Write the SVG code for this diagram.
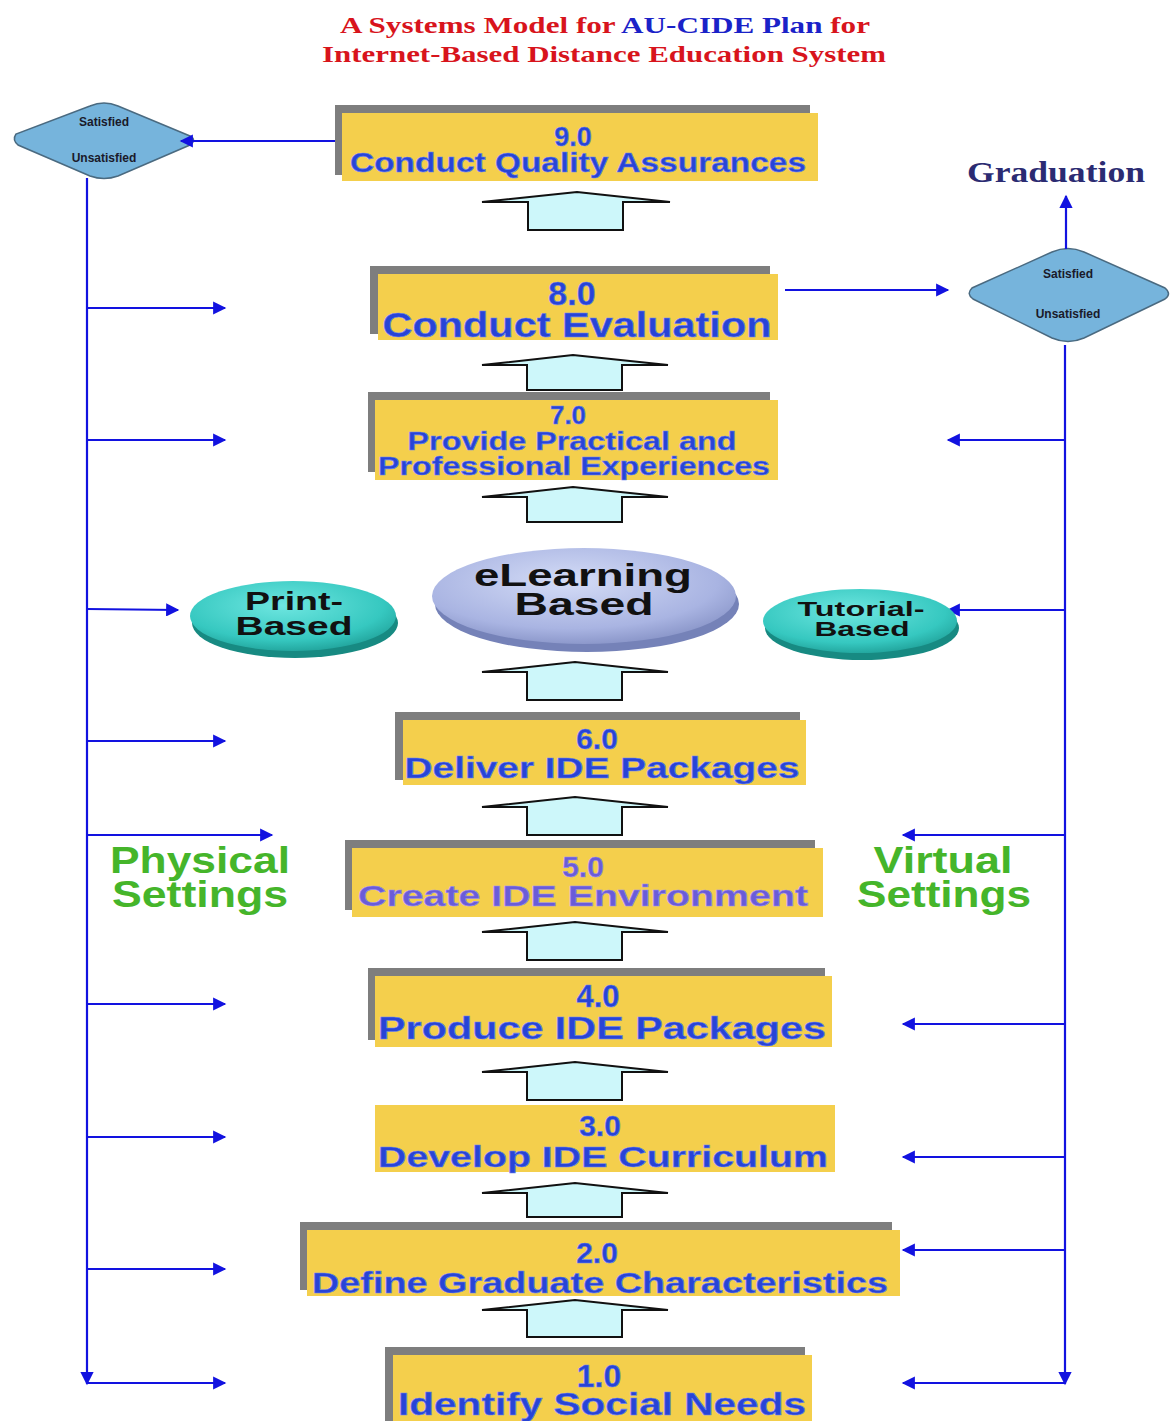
<svg xmlns="http://www.w3.org/2000/svg" xmlns:xlink="http://www.w3.org/1999/xlink" width="1173" height="1421" viewBox="0 0 1173 1421">
<defs>
<style>
.sh{fill:#7e7e7e}
.bx{fill:#f4cf4c}
.bt{font-family:"Liberation Sans",Arial,sans-serif;font-weight:bold;fill:#2844d6;text-anchor:middle;stroke:#6d84f0;stroke-width:0.6}
.pt{fill:#6a5cd8;stroke:#9a8ef0}
.up{fill:#cdf7fa;stroke:#111;stroke-width:2;stroke-linejoin:miter}
.ln{fill:none;stroke:#1212e0;stroke-width:2.2}
.dm{fill:#76b4dc;stroke:#4a6a80;stroke-width:1.5}
.dt{font-family:"Liberation Sans",Arial,sans-serif;font-weight:bold;font-size:12px;fill:#1a1a2a;text-anchor:middle}
.et{font-family:"Liberation Sans",Arial,sans-serif;font-weight:bold;fill:#111;text-anchor:middle}
.gt{font-family:"Liberation Sans",Arial,sans-serif;font-weight:bold;fill:#45b52a;text-anchor:middle;font-size:36px}
.ti{font-family:"Liberation Serif","Times New Roman",serif;font-weight:bold;font-size:24px;text-anchor:middle}
</style>
<marker id="ah" viewBox="0 0 10 10" refX="9" refY="5" markerWidth="7" markerHeight="6" markerUnits="strokeWidth" orient="auto">
<path d="M0,0 L10,5 L0,10 z" fill="#1212e0"/>
</marker>
<radialGradient id="teal" cx="0.45" cy="0.35" r="0.7">
<stop offset="0" stop-color="#6ee6e0"/>
<stop offset="0.7" stop-color="#36c8c0"/>
<stop offset="1" stop-color="#1e9e96"/>
</radialGradient>
<radialGradient id="lav" cx="0.45" cy="0.35" r="0.7">
<stop offset="0" stop-color="#d4dcf6"/>
<stop offset="0.7" stop-color="#a9b4e2"/>
<stop offset="1" stop-color="#8490c4"/>
</radialGradient>
</defs>
<rect width="1173" height="1421" fill="#ffffff"/>

<g id="title">
<text class="ti" x="605" y="33" textLength="530" lengthAdjust="spacingAndGlyphs"><tspan fill="#d8141c">A Systems Model for </tspan><tspan fill="#1a22c8">AU-CIDE Plan</tspan><tspan fill="#d8141c"> for</tspan></text>
<text class="ti" x="604" y="62" fill="#d8141c" textLength="564" lengthAdjust="spacingAndGlyphs">Internet-Based Distance Education System</text>
</g>

<g id="decision-left">
<path class="dm" d="M16,134 Q12,140 18,145 L90,176 Q104,181 118,176 L190,145 Q197,140 190,136 L118,106 Q104,100 90,106 Z"/>
<text class="dt" x="104" y="126">Satisfied</text>
<text class="dt" x="104" y="162">Unsatisfied</text>
</g>

<g id="decision-right">
<path class="dm" d="M972,288 Q966,294 973,299 L1052,338 Q1068,345 1084,338 L1165,299 Q1172,294 1165,288 L1084,252 Q1068,245 1052,252 Z"/>
<text class="dt" x="1068" y="278" font-size="13">Satisfied</text>
<text class="dt" x="1068" y="318" font-size="13">Unsatisfied</text>
</g>

<g id="connectors">
<polygon class="up" points="482,202 577,192 670,202 623,202 623,230 528,230 528,202"/>
<polygon class="up" points="482,365 573,355 668,365 622,365 622,390 527,390 527,365"/>
<polygon class="up" points="482,497 573,487 668,497 622,497 622,522 527,522 527,497"/>
<polygon class="up" points="482,672 575,662 668,672 622,672 622,700 527,700 527,672"/>
<polygon class="up" points="482,807 575,797 668,807 622,807 622,835 527,835 527,807"/>
<polygon class="up" points="482,932 575,922 668,932 622,932 622,960 527,960 527,932"/>
<polygon class="up" points="482,1072 575,1062 668,1072 622,1072 622,1100 527,1100 527,1072"/>
<polygon class="up" points="482,1193 575,1183 668,1193 622,1193 622,1217 527,1217 527,1193"/>
<polygon class="up" points="482,1310 575,1300 668,1310 622,1310 622,1337 527,1337 527,1310"/>

<line class="ln" x1="342" y1="141" x2="181" y2="141" marker-end="url(#ah)"/>
<line class="ln" x1="87" y1="178" x2="87" y2="1384" marker-end="url(#ah)"/>
<line class="ln" x1="87" y1="308" x2="225" y2="308" marker-end="url(#ah)"/>
<line class="ln" x1="87" y1="440" x2="225" y2="440" marker-end="url(#ah)"/>
<line class="ln" x1="87" y1="609" x2="178" y2="610" marker-end="url(#ah)"/>
<line class="ln" x1="87" y1="741" x2="225" y2="741" marker-end="url(#ah)"/>
<line class="ln" x1="87" y1="835" x2="272" y2="835" marker-end="url(#ah)"/>
<line class="ln" x1="87" y1="1004" x2="225" y2="1004" marker-end="url(#ah)"/>
<line class="ln" x1="87" y1="1137" x2="225" y2="1137" marker-end="url(#ah)"/>
<line class="ln" x1="87" y1="1269" x2="225" y2="1269" marker-end="url(#ah)"/>
<line class="ln" x1="87" y1="1383" x2="225" y2="1383" marker-end="url(#ah)"/>

<line class="ln" x1="785" y1="290" x2="948" y2="290" marker-end="url(#ah)"/>
<line class="ln" x1="1066" y1="249" x2="1066" y2="196" marker-end="url(#ah)"/>
<line class="ln" x1="1065" y1="345" x2="1065" y2="1384" marker-end="url(#ah)"/>
<line class="ln" x1="1065" y1="440" x2="948" y2="440" marker-end="url(#ah)"/>
<line class="ln" x1="1065" y1="610" x2="948" y2="610" marker-end="url(#ah)"/>
<line class="ln" x1="1065" y1="835" x2="903" y2="835" marker-end="url(#ah)"/>
<line class="ln" x1="1065" y1="1024" x2="903" y2="1024" marker-end="url(#ah)"/>
<line class="ln" x1="1065" y1="1157" x2="903" y2="1157" marker-end="url(#ah)"/>
<line class="ln" x1="1065" y1="1250" x2="903" y2="1250" marker-end="url(#ah)"/>
<line class="ln" x1="1065" y1="1383" x2="903" y2="1383" marker-end="url(#ah)"/>
</g>

<g id="n9">
<rect class="sh" x="335" y="105" width="475" height="70"/>
<rect class="bx" x="342" y="113" width="476" height="68"/>
<text class="bt" x="573" y="146" font-size="27">9.0</text>
<text class="bt" x="578" y="172" font-size="28" textLength="456" lengthAdjust="spacingAndGlyphs">Conduct Quality Assurances</text>
</g>

<g id="n8">
<rect class="sh" x="370" y="266" width="400" height="68"/>
<rect class="bx" x="378" y="274" width="400" height="66"/>
<text class="bt" x="572" y="305" font-size="34">8.0</text>
<text class="bt" x="577" y="337" font-size="35" textLength="389" lengthAdjust="spacingAndGlyphs">Conduct Evaluation</text>
</g>

<g id="n7">
<rect class="sh" x="368" y="392" width="402" height="80"/>
<rect class="bx" x="375" y="400" width="403" height="80"/>
<text class="bt" x="568" y="424" font-size="26">7.0</text>
<text class="bt" x="572" y="450" font-size="26" textLength="329" lengthAdjust="spacingAndGlyphs">Provide Practical and</text>
<text class="bt" x="574" y="475" font-size="26" textLength="392" lengthAdjust="spacingAndGlyphs">Professional Experiences</text>
</g>

<g id="elearning">
<ellipse cx="587" cy="604" rx="152" ry="48" fill="#7582b8"/>
<ellipse cx="584" cy="596" rx="152" ry="48" fill="url(#lav)"/>
<text class="et" x="583" y="586" font-size="31" textLength="218" lengthAdjust="spacingAndGlyphs">eLearning</text>
<text class="et" x="584" y="615" font-size="31" textLength="139" lengthAdjust="spacingAndGlyphs">Based</text>
</g>

<g id="print">
<ellipse cx="295" cy="623" rx="103" ry="35" fill="#178a82"/>
<ellipse cx="293" cy="616" rx="103" ry="35" fill="url(#teal)"/>
<text class="et" x="294" y="610" font-size="25" textLength="98" lengthAdjust="spacingAndGlyphs">Print-</text>
<text class="et" x="294" y="635" font-size="25" textLength="117" lengthAdjust="spacingAndGlyphs">Based</text>
</g>

<g id="tutorial">
<ellipse cx="862" cy="628" rx="97" ry="32" fill="#178a82"/>
<ellipse cx="860" cy="621" rx="97" ry="32" fill="url(#teal)"/>
<text class="et" x="861" y="616" font-size="21" textLength="127" lengthAdjust="spacingAndGlyphs">Tutorial-</text>
<text class="et" x="862" y="636" font-size="21" textLength="95" lengthAdjust="spacingAndGlyphs">Based</text>
</g>

<g id="n6">
<rect class="sh" x="395" y="712" width="405" height="68"/>
<rect class="bx" x="403" y="720" width="403" height="65"/>
<text class="bt" x="597" y="749" font-size="30">6.0</text>
<text class="bt" x="602" y="778" font-size="30" textLength="395" lengthAdjust="spacingAndGlyphs">Deliver IDE Packages</text>
</g>

<g id="n5">
<rect class="sh" x="345" y="840" width="470" height="70"/>
<rect class="bx" x="352" y="848" width="471" height="69"/>
<text class="bt pt" x="583" y="877" font-size="30">5.0</text>
<text class="bt pt" x="583" y="906" font-size="30" textLength="450" lengthAdjust="spacingAndGlyphs">Create IDE Environment</text>
</g>

<g id="n4">
<rect class="sh" x="368" y="968" width="457" height="72"/>
<rect class="bx" x="375" y="976" width="457" height="71"/>
<text class="bt" x="598" y="1007" font-size="31">4.0</text>
<text class="bt" x="602" y="1039" font-size="31" textLength="448" lengthAdjust="spacingAndGlyphs">Produce IDE Packages</text>
</g>

<g id="n3">
<rect class="bx" x="375" y="1105" width="460" height="67"/>
<text class="bt" x="600" y="1136" font-size="30">3.0</text>
<text class="bt" x="603" y="1167" font-size="30" textLength="450" lengthAdjust="spacingAndGlyphs">Develop IDE Curriculum</text>
</g>

<g id="n2">
<rect class="sh" x="300" y="1222" width="592" height="68"/>
<rect class="bx" x="307" y="1230" width="593" height="66"/>
<text class="bt" x="597" y="1263" font-size="30">2.0</text>
<text class="bt" x="600" y="1293" font-size="30" textLength="576" lengthAdjust="spacingAndGlyphs">Define Graduate Characteristics</text>
</g>

<g id="n1">
<rect class="sh" x="385" y="1347" width="420" height="74"/>
<rect class="bx" x="393" y="1355" width="419" height="66"/>
<text class="bt" x="599" y="1387" font-size="32">1.0</text>
<text class="bt" x="602" y="1415" font-size="32" textLength="408" lengthAdjust="spacingAndGlyphs">Identify Social Needs</text>
</g>

<g id="graduation">
<text x="1056" y="182" font-family="'Liberation Serif','Times New Roman',serif" font-weight="bold" font-size="29" fill="#2b2b72" text-anchor="middle" textLength="178" lengthAdjust="spacingAndGlyphs">Graduation</text>
</g>

<g id="physical">
<text class="gt" x="200" y="873" textLength="180" lengthAdjust="spacingAndGlyphs">Physical</text>
<text class="gt" x="200" y="907" textLength="176" lengthAdjust="spacingAndGlyphs">Settings</text>
</g>

<g id="virtual">
<text class="gt" x="943" y="873" textLength="139" lengthAdjust="spacingAndGlyphs">Virtual</text>
<text class="gt" x="944" y="907" textLength="174" lengthAdjust="spacingAndGlyphs">Settings</text>
</g>
</svg>
